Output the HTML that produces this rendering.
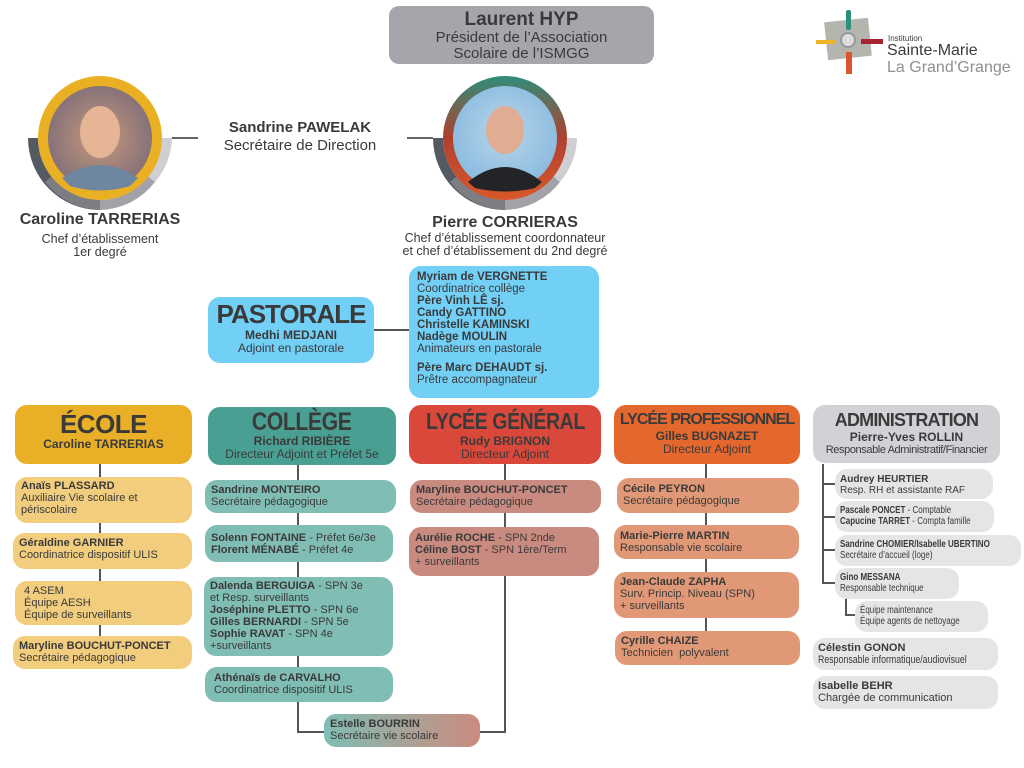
<!DOCTYPE html>
<html><head><meta charset="utf-8"><style>
*{margin:0;padding:0;box-sizing:border-box}
body{width:1024px;height:768px;background:#fff;position:relative;overflow:hidden;font-family:"Liberation Sans",sans-serif;color:#3a3a3a}
.a{position:absolute}
.b{position:absolute;border-radius:12px;padding:3px 6px;font-size:11px;line-height:12px;color:#3a3a3a;white-space:nowrap}
.b b{font-weight:bold}
.h{position:absolute;border-radius:12px;text-align:center;color:#3a3a3a;white-space:nowrap}
.h .t{font-weight:bold;letter-spacing:-0.5px}
.h .n{font-weight:bold;font-size:12px;line-height:13px}
.h .s{font-size:12px;line-height:13px}
.l{position:absolute;background:#555}
.c{text-align:center}
.s9{font-size:10px;line-height:11px}
.cx{display:inline-block;transform:scaleX(.8);transform-origin:0 0}
.sx{display:inline-block;transform:scaleX(.85)}
</style></head><body>

<!-- Laurent -->
<div class="h" style="left:389px;top:6px;width:265px;height:58px;background:#a7a5ac;border-radius:10px;padding-top:3px">
<div style="font-weight:bold;font-size:19px;line-height:21px">Laurent HYP</div>
<div style="font-size:15px;line-height:16px">Président de l’Association<br>Scolaire de l’ISMGG</div></div>

<!-- logo -->
<div class="a" style="left:826px;top:20px;width:44px;height:38px;background:#b5b5b0;transform:rotate(-6deg)"></div>
<div class="a" style="left:846px;top:10px;width:5px;height:20px;background:#2c8f7d;border-radius:2px"></div>
<div class="a" style="left:846px;top:52px;width:6px;height:22px;background:#d9572a"></div>
<div class="a" style="left:816px;top:40px;width:20px;height:4px;background:#f0b32b"></div>
<div class="a" style="left:861px;top:39px;width:22px;height:5px;background:#a52430"></div>
<div class="a" style="left:840px;top:32px;width:16px;height:16px;border-radius:50%;background:#ddd;border:2px solid #999"></div>
<div class="a" style="left:888px;top:34px;font-size:8px">Institution</div>
<div class="a" style="left:887px;top:42px;font-size:16px;line-height:17px;color:#3a3a3a">Sainte-Marie</div>
<div class="a" style="left:887px;top:59px;font-size:16px;line-height:17px;color:#8f8f8f">La Grand’Grange</div>

<!-- circles -->
<svg class="a" style="left:0;top:60px" width="600" height="160">
<path d="M28 78 A72 72 0 0 0 100 150 L100 140 A62 62 0 0 1 38 78Z" fill="#555a62"/>
<path d="M45 122 A72 72 0 0 0 100 150 L100 140 A62 62 0 0 1 52 116Z" fill="#7d7e84"/>
<path d="M100 150 A72 72 0 0 0 155 122 L148 116 A62 62 0 0 1 100 140Z" fill="#a3a2a8"/>
<path d="M155 122 A72 72 0 0 0 172 78 L162 78 A62 62 0 0 1 148 116Z" fill="#cfced3"/>
<path d="M433 78 A72 72 0 0 0 505 150 L505 140 A62 62 0 0 1 443 78Z" fill="#555a62"/>
<path d="M450 122 A72 72 0 0 0 505 150 L505 140 A62 62 0 0 1 457 116Z" fill="#7d7e84"/>
<path d="M505 150 A72 72 0 0 0 560 122 L553 116 A62 62 0 0 1 505 140Z" fill="#a3a2a8"/>
<path d="M560 122 A72 72 0 0 0 577 78 L567 78 A62 62 0 0 1 553 116Z" fill="#cfced3"/>
<defs><linearGradient id="pg" x1="0" y1="0" x2="0" y2="1"><stop offset="0" stop-color="#2e8d7a"/><stop offset="0.5" stop-color="#b0402e"/><stop offset="1" stop-color="#d9582a"/></linearGradient>
<radialGradient id="cb" cx=".5" cy=".5" r=".6"><stop offset="0" stop-color="#c79a7c"/><stop offset="1" stop-color="#7a6a78"/></radialGradient>
<radialGradient id="pb" cx=".5" cy=".45" r=".6"><stop offset="0" stop-color="#b8d5ea"/><stop offset="1" stop-color="#86b9df"/></radialGradient></defs>
<circle cx="100" cy="78" r="62" fill="#eab024"/>
<circle cx="100" cy="78" r="52" fill="url(#cb)"/>
<ellipse cx="100" cy="72" rx="20" ry="26" fill="#e5b596"/>
<path d="M62 118 Q100 92 138 118 L130 126 Q100 135 70 126Z" fill="#6f86a0"/>
<circle cx="505" cy="78" r="62" fill="url(#pg)"/>
<circle cx="505" cy="78" r="52" fill="url(#pb)"/>
<ellipse cx="505" cy="70" rx="19" ry="24" fill="#e0ad92"/>
<path d="M468 122 Q505 92 542 122 L535 128 Q505 135 475 128Z" fill="#232428"/>
<rect x="172" y="77" width="26" height="2" fill="#666"/>
<rect x="407" y="77" width="26" height="2" fill="#666"/>
</svg>

<div class="a c" style="left:190px;top:119px;width:220px;font-size:15px;line-height:18px"><b>Sandrine PAWELAK</b><br>Secrétaire de Direction</div>
<div class="a c" style="left:0;top:210px;width:200px;font-size:16px;font-weight:bold;line-height:20px">Caroline TARRERIAS</div>
<div class="a c" style="left:0;top:233px;width:200px;font-size:12.5px;line-height:13px">Chef d’établissement<br>1er degré</div>
<div class="a c" style="left:380px;top:213px;width:250px;font-size:16px;font-weight:bold;line-height:20px">Pierre CORRIERAS</div>
<div class="a c" style="left:370px;top:232px;width:270px;font-size:12.5px;line-height:13px">Chef d’établissement coordonnateur<br>et chef d’établissement du 2nd degré</div>

<!-- Pastorale -->
<div class="h" style="left:208px;top:297px;width:166px;height:66px;background:#72cff6;padding-top:2px">
<div class="t" style="font-size:26px;line-height:30px;letter-spacing:-1px">PASTORALE</div>
<div class="n">Medhi MEDJANI</div><div class="s">Adjoint en pastorale</div></div>
<div class="l" style="left:374px;top:329px;width:35px;height:2px"></div>
<div class="b" style="left:409px;top:266px;width:190px;height:132px;background:#72cff6;padding:5px 8px;font-size:11.5px;line-height:12px">
<b>Myriam de VERGNETTE</b><br>Coordinatrice collège<br><b>Père Vinh LÊ sj.</b><br><b>Candy GATTINO</b><br><b>Christelle KAMINSKI</b><br><b>Nadège MOULIN</b><br>Animateurs en pastorale<br><div style="height:7px"></div><b>Père Marc DEHAUDT sj.</b><br>Prêtre accompagnateur</div>

<!-- connectors -->
<div class="l" style="left:99px;top:464px;width:2px;height:172px"></div>
<div class="l" style="left:297px;top:464px;width:2px;height:268px"></div>
<div class="l" style="left:297px;top:731px;width:28px;height:2px"></div>
<div class="l" style="left:504px;top:464px;width:2px;height:269px"></div>
<div class="l" style="left:480px;top:731px;width:26px;height:2px"></div>
<div class="l" style="left:705px;top:464px;width:2px;height:170px"></div>
<div class="l" style="left:822px;top:464px;width:2px;height:119px"></div>
<div class="l" style="left:822px;top:483px;width:14px;height:2px"></div>
<div class="l" style="left:822px;top:516px;width:14px;height:2px"></div>
<div class="l" style="left:822px;top:549px;width:14px;height:2px"></div>
<div class="l" style="left:822px;top:582px;width:14px;height:2px"></div>
<div class="l" style="left:845px;top:598px;width:2px;height:17px"></div>
<div class="l" style="left:845px;top:614px;width:10px;height:2px"></div>

<!-- ECOLE -->
<div class="h" style="left:15px;top:405px;width:177px;height:59px;background:#e9b027;padding-top:5px">
<div class="t" style="font-size:26px;line-height:28px">ÉCOLE</div><div class="n">Caroline TARRERIAS</div></div>
<div class="b" style="left:15px;top:477px;width:177px;height:46px;background:#f1cd7d"><b>Anaïs PLASSARD</b><br>Auxiliaire Vie scolaire et<br>périscolaire</div>
<div class="b" style="left:13px;top:533px;width:179px;height:36px;background:#f1cd7d;padding-top:4px"><b>Géraldine GARNIER</b><br>Coordinatrice dispositif ULIS</div>
<div class="b" style="left:15px;top:581px;width:177px;height:44px;background:#f1cd7d;padding:4px 9px">4 ASEM<br>Équipe AESH<br>Équipe de surveillants</div>
<div class="b" style="left:13px;top:636px;width:179px;height:33px;background:#f1cd7d;padding-top:4px"><b>Maryline BOUCHUT-PONCET</b><br>Secrétaire pédagogique</div>

<!-- COLLEGE -->
<div class="h" style="left:208px;top:407px;width:188px;height:58px;background:#4a9f93;padding-top:2px">
<div class="t" style="font-size:25px;line-height:26px"><span class="sx">COLLÈGE</span></div><div class="n">Richard RIBIÈRE</div><div class="s">Directeur Adjoint et Préfet 5e</div></div>
<div class="b" style="left:205px;top:480px;width:191px;height:33px;background:#80bdb4;padding-top:4px"><b>Sandrine MONTEIRO</b><br>Secrétaire pédagogique</div>
<div class="b" style="left:205px;top:525px;width:188px;height:37px;background:#80bdb4;padding-top:7px"><b>Solenn FONTAINE</b> - Préfet 6e/3e<br><b>Florent MÉNABÉ</b> - Préfet 4e</div>
<div class="b" style="left:204px;top:577px;width:189px;height:79px;background:#80bdb4"><b>Dalenda BERGUIGA</b> - SPN 3e<br>et Resp. surveillants<br><b>Joséphine PLETTO</b> - SPN 6e<br><b>Gilles BERNARDI</b> - SPN 5e<br><b>Sophie RAVAT</b> - SPN 4e<br>+surveillants</div>
<div class="b" style="left:205px;top:667px;width:188px;height:35px;background:#80bdb4;padding:5px 9px"><b>Athénaïs de CARVALHO</b><br>Coordinatrice dispositif ULIS</div>
<div class="b" style="left:324px;top:714px;width:156px;height:33px;background:linear-gradient(90deg,#80bdb4,#cc8b7f);padding-top:4px"><b>Estelle BOURRIN</b><br>Secrétaire vie scolaire</div>

<!-- LYCEE GENERAL -->
<div class="h" style="left:409px;top:405px;width:192px;height:59px;background:#d9483b;padding-top:3px">
<div class="t" style="font-size:23px;line-height:27px"><span class="sx">LYCÉE GÉNÉRAL</span></div><div class="n">Rudy BRIGNON</div><div class="s">Directeur Adjoint</div></div>
<div class="b" style="left:410px;top:480px;width:191px;height:33px;background:#c98a80;padding-top:4px"><b>Maryline BOUCHUT-PONCET</b><br>Secrétaire pédagogique</div>
<div class="b" style="left:409px;top:527px;width:190px;height:49px;background:#c98a80;padding-top:5px"><b>Aurélie ROCHE</b> - SPN 2nde<br><b>Céline BOST</b> - SPN 1ère/Term<br>+ surveillants</div>

<!-- LYCEE PRO -->
<div class="h" style="left:614px;top:405px;width:186px;height:59px;background:#e4682e;padding-top:5px">
<div class="t" style="font-size:16px;line-height:20px;letter-spacing:-1px">LYCÉE PROFESSIONNEL</div><div class="n">Gilles BUGNAZET</div><div class="s">Directeur Adjoint</div></div>
<div class="b" style="left:617px;top:478px;width:182px;height:35px;background:#e19876;padding:5px 6px"><b>Cécile PEYRON</b><br>Secrétaire pédagogique</div>
<div class="b" style="left:614px;top:525px;width:185px;height:34px;background:#e19876;padding-top:5px"><b>Marie-Pierre MARTIN</b><br>Responsable vie scolaire</div>
<div class="b" style="left:614px;top:572px;width:185px;height:46px;background:#e19876;padding-top:4px"><b>Jean-Claude ZAPHA</b><br>Surv. Princip. Niveau (SPN)<br>+ surveillants</div>
<div class="b" style="left:615px;top:631px;width:185px;height:34px;background:#e19876;padding-top:4px"><b>Cyrille CHAIZE</b><br>Technicien&nbsp; polyvalent</div>

<!-- ADMIN -->
<div class="h" style="left:813px;top:405px;width:187px;height:58px;background:#d3d1d6;padding-top:4px">
<div class="t" style="font-size:18px;line-height:22px;letter-spacing:-0.8px">ADMINISTRATION</div><div class="n">Pierre-Yves ROLLIN</div><div class="s" style="font-size:11px;letter-spacing:-0.4px">Responsable Administratif/Financier</div></div>
<div class="b s9" style="left:835px;top:469px;width:158px;height:30px;background:#e5e4e7;padding:5px 5px"><b>Audrey HEURTIER</b><br>Resp. RH et assistante RAF</div>
<div class="b s9" style="left:835px;top:501px;width:159px;height:31px;background:#e5e4e7;padding:4px 5px"><div class="cx"><b>Pascale PONCET</b> - Comptable<br><b>Capucine TARRET</b> - Compta famille</div></div>
<div class="b s9" style="left:835px;top:535px;width:186px;height:31px;background:#e5e4e7;padding:4px 5px"><div class="cx"><b>Sandrine CHOMIER/Isabelle UBERTINO</b><br>Secrétaire d’accueil (loge)</div></div>
<div class="b s9" style="left:835px;top:568px;width:124px;height:31px;background:#e5e4e7;padding:4px 5px"><div class="cx"><b>Gino MESSANA</b><br>Responsable technique</div></div>
<div class="b s9" style="left:855px;top:601px;width:133px;height:31px;background:#e5e4e7;padding:4px 5px"><div class="cx">Équipe maintenance<br>Équipe agents de nettoyage</div></div>
<div class="b" style="left:813px;top:638px;width:185px;height:32px;background:#e5e4e7;padding:4px 5px"><b>Célestin GONON</b><br><span class="cx" style="transform:scaleX(.8)">Responsable informatique/audiovisuel</span></div>
<div class="b" style="left:813px;top:676px;width:185px;height:33px;background:#e5e4e7;padding:4px 5px"><b>Isabelle BEHR</b><br>Chargée de communication</div>

</body></html>
